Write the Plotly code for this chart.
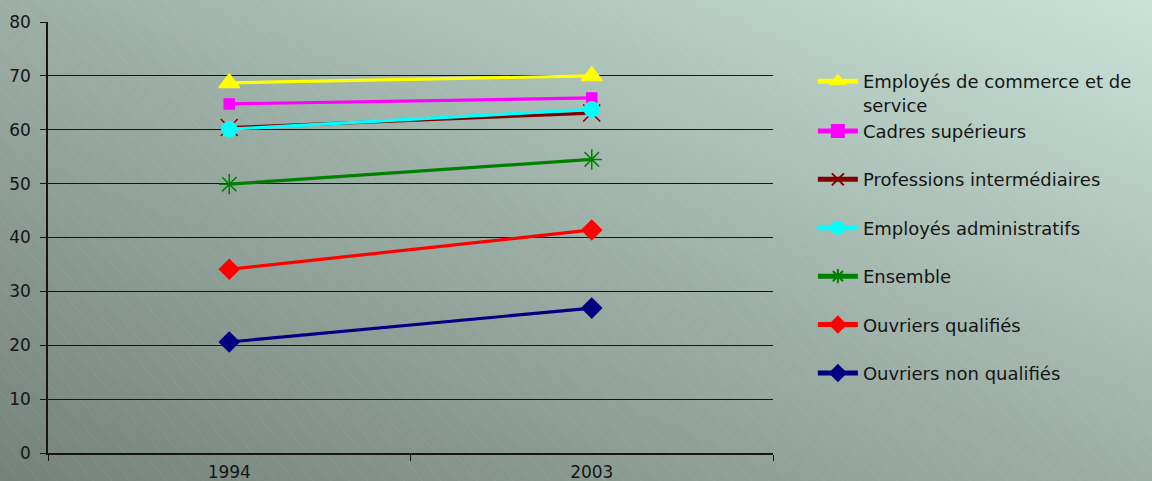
import base64
import plotly.graph_objects as go

years = ["1994", "2003"]
series_names = [
    "Employés de commerce et de<br>service",
    "Cadres supérieurs",
    "Professions intermédiaires",
    "Employés administratifs",
    "Ensemble",
    "Ouvriers qualifiés",
    "Ouvriers non qualifiés",
]
employes_commerce = [68.7, 70.0]
cadres_superieurs = [64.8, 65.9]
professions_inter = [60.4, 63.1]
employes_admin = [60.1, 63.8]
ensemble = [49.9, 54.5]
ouvriers_qualifies = [34.1, 41.4]
ouvriers_non_qualifies = [20.6, 26.9]
y_ticks = [0, 10, 20, 30, 40, 50, 60, 70, 80]

values = [employes_commerce, cadres_superieurs, professions_inter, employes_admin,
          ensemble, ouvriers_qualifies, ouvriers_non_qualifies]
colors = ["#ffff00", "#ff00ff", "#800000", "#00ffff", "#008000", "#ff0000", "#000080"]
symbols = ["triangle-up", "square", "x-thin-open", "circle", "asterisk-open", "diamond", "diamond"]
sizes = [18, 10, 17, 15, 17, 15, 15]
groups = ["g0", "g0", "g2", "g3", "g4", "g5", "g6"]

W, H = 1152, 481
L, R, T, B = 48, 379, 22, 28
pw, ph = W - L - R, H - T - B

svg = f'''<svg xmlns="http://www.w3.org/2000/svg" width="{W}" height="{H}" viewBox="0 0 {W} {H}" preserveAspectRatio="none">
<defs>
<linearGradient id="g" x1="0" y1="1" x2="1" y2="0">
<stop offset="0" stop-color="#74827a"/>
<stop offset="0.5" stop-color="#9cafa6"/>
<stop offset="1" stop-color="#c9e2d8"/>
</linearGradient>
<pattern id="p" width="14" height="14" patternUnits="userSpaceOnUse" patternTransform="rotate(-40)">
<line x1="0" y1="0" x2="0" y2="14" stroke="#ffffff" stroke-opacity="0.07" stroke-width="1.5"/>
</pattern>
</defs>
<rect width="{W}" height="{H}" fill="url(#g)"/>
<rect width="{W}" height="{H}" fill="url(#p)"/>
</svg>'''
src = "data:image/svg+xml;base64," + base64.b64encode(svg.encode()).decode()

fig = go.Figure()
for i in range(len(values)):
    fig.add_trace(go.Scatter(
        x=years, y=values[i], name=series_names[i], mode="lines+markers",
        line=dict(color=colors[i], width=3.2),
        marker=dict(symbol=symbols[i], size=sizes[i], color=colors[i],
                    line=dict(color=colors[i], width=1.5)),
        legendgroup=groups[i], legendrank=i,
    ))

fig.update_layout(
    width=W, height=H,
    margin=dict(l=L, r=R, t=T, b=B, pad=0),
    paper_bgcolor="#9cafa6",
    plot_bgcolor="rgba(0,0,0,0)",
    font=dict(family="DejaVu Sans, Liberation Sans, sans-serif", color="#151515", size=16),
    images=[dict(source=src, xref="paper", yref="paper",
                 x=-L / pw, y=1 + T / ph, sizex=W / pw, sizey=H / ph,
                 xanchor="left", yanchor="top", sizing="stretch", layer="below")],
    showlegend=True,
    legend=dict(x=1.055, y=0.905, xanchor="left", yanchor="top",
                bgcolor="rgba(0,0,0,0)", font=dict(size=18, color="#151515"),
                tracegroupgap=22, valign="top", itemwidth=40, itemsizing="constant"),
    xaxis=dict(type="category", range=[-0.5, 1.5], tickson="boundaries",
               ticks="outside", ticklen=6, tickcolor="#151515",
               showline=True, linecolor="#151515", linewidth=1.5,
               showgrid=False, zeroline=False, tickfont=dict(size=17),
               automargin=False, ticklabelstandoff=3),
    yaxis=dict(range=[0, 80], tickvals=y_ticks, ticks="outside", ticklen=6,
               tickcolor="#151515", showline=True, linecolor="#151515", linewidth=1.5,
               showgrid=True, gridcolor="#151515", gridwidth=1.4,
               zeroline=False, tickfont=dict(size=17),
               automargin=False, ticklabelstandoff=6),
)
fig.write_html("out.html", post_script="document.body.style.margin='0';",
               config={"displayModeBar": False})
